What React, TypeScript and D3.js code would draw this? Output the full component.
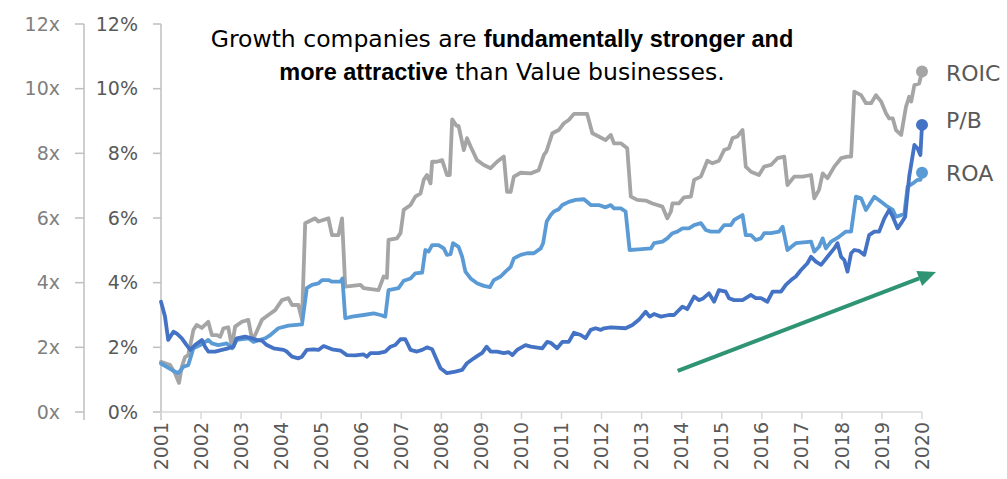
import React from "react";
import * as d3 from "d3";

// [decimal year, value] — ROIC and ROA in %, P/B in x (same 0–12 scale)
const roic: [number, number][] = [
  [2001.0, 1.55], [2001.23, 1.45], [2001.35, 1.2], [2001.45, 0.9], [2001.52, 1.4], [2001.6, 1.7],
  [2001.68, 1.76], [2001.81, 2.54], [2001.89, 2.69], [2002.02, 2.6], [2002.18, 2.79], [2002.27, 2.38],
  [2002.39, 2.38], [2002.48, 2.33], [2002.56, 2.59], [2002.68, 2.62], [2002.77, 2.02], [2002.85, 2.64],
  [2003.02, 2.79], [2003.18, 2.85], [2003.27, 2.28], [2003.35, 2.38], [2003.52, 2.85], [2003.68, 3.0],
  [2003.85, 3.15], [2004.02, 3.46], [2004.18, 3.52], [2004.27, 3.31], [2004.43, 3.31], [2004.52, 2.85],
  [2004.6, 5.84], [2004.85, 5.99], [2004.93, 5.89], [2005.18, 5.99], [2005.27, 5.47], [2005.43, 5.47],
  [2005.52, 5.99], [2005.6, 3.88], [2005.77, 3.9], [2005.98, 3.93], [2006.06, 3.83], [2006.43, 3.77],
  [2006.56, 4.19], [2006.64, 4.15], [2006.68, 5.32], [2006.89, 5.37], [2006.98, 5.53], [2007.06, 6.25],
  [2007.23, 6.4], [2007.35, 6.66], [2007.48, 6.76], [2007.56, 7.18], [2007.64, 7.33], [2007.73, 7.07],
  [2007.77, 7.74], [2007.89, 7.74], [2008.02, 7.79], [2008.14, 7.33], [2008.21, 7.33], [2008.27, 9.05],
  [2008.38, 8.85], [2008.43, 8.85], [2008.56, 8.1], [2008.64, 8.47], [2008.73, 8.21], [2008.89, 7.79],
  [2009.06, 7.64], [2009.23, 7.54], [2009.39, 7.74], [2009.56, 7.9], [2009.64, 6.81], [2009.73, 6.81],
  [2009.81, 7.28], [2009.98, 7.4], [2010.23, 7.38], [2010.43, 7.48], [2010.56, 7.95], [2010.62, 8.05],
  [2010.77, 8.62], [2010.93, 8.72], [2011.06, 8.93], [2011.18, 9.03], [2011.31, 9.22], [2011.64, 9.22],
  [2011.77, 8.62], [2011.93, 8.52], [2012.1, 8.41], [2012.23, 8.57], [2012.31, 8.31], [2012.48, 8.31],
  [2012.64, 8.16], [2012.73, 6.66], [2012.89, 6.56], [2013.1, 6.54], [2013.27, 6.45], [2013.52, 6.35],
  [2013.64, 5.99], [2013.73, 6.2], [2013.77, 6.45], [2013.93, 6.45], [2014.06, 6.64], [2014.23, 6.66],
  [2014.31, 7.18], [2014.48, 7.28], [2014.64, 7.77], [2014.77, 7.69], [2014.93, 7.77], [2015.06, 8.1],
  [2015.18, 8.16], [2015.27, 8.47], [2015.39, 8.52], [2015.52, 8.72], [2015.6, 7.59], [2015.73, 7.43],
  [2015.93, 7.33], [2016.06, 7.59], [2016.23, 7.64], [2016.39, 7.85], [2016.56, 7.9], [2016.64, 7.02],
  [2016.81, 7.28], [2017.02, 7.28], [2017.23, 7.33], [2017.31, 6.61], [2017.43, 6.87], [2017.52, 7.38],
  [2017.64, 7.23], [2017.81, 7.59], [2017.98, 7.85], [2018.14, 7.9], [2018.23, 7.9], [2018.31, 9.91],
  [2018.48, 9.8], [2018.6, 9.55], [2018.73, 9.55], [2018.85, 9.8], [2018.98, 9.6], [2019.1, 9.24],
  [2019.18, 9.08], [2019.27, 9.08], [2019.35, 8.72], [2019.48, 8.57], [2019.6, 9.44], [2019.68, 9.75],
  [2019.73, 9.6], [2019.81, 10.11], [2019.93, 10.16], [2020.0, 10.53],
];

const roa: [number, number][] = [
  [2001.0, 1.5], [2001.27, 1.3], [2001.43, 1.2], [2001.56, 1.4], [2001.68, 1.45], [2001.81, 1.97],
  [2001.98, 2.07], [2002.18, 2.23], [2002.27, 2.12], [2002.43, 2.07], [2002.64, 2.12], [2002.78, 1.97],
  [2002.89, 2.23], [2003.18, 2.28], [2003.31, 2.17], [2003.6, 2.28], [2003.73, 2.38], [2003.93, 2.59],
  [2004.18, 2.67], [2004.52, 2.71], [2004.64, 3.83], [2004.77, 3.93], [2004.93, 3.98], [2005.02, 4.08],
  [2005.18, 4.08], [2005.27, 4.03], [2005.48, 4.03], [2005.53, 4.13], [2005.6, 2.9], [2005.77, 2.95],
  [2006.06, 3.0], [2006.31, 3.05], [2006.48, 3.0], [2006.6, 2.95], [2006.68, 3.77], [2006.93, 3.83],
  [2007.06, 4.06], [2007.23, 4.13], [2007.35, 4.29], [2007.52, 4.31], [2007.6, 5.01], [2007.68, 4.96],
  [2007.77, 5.16], [2007.93, 5.16], [2008.06, 5.06], [2008.14, 4.86], [2008.23, 4.88], [2008.29, 5.22],
  [2008.43, 5.11], [2008.52, 4.8], [2008.6, 4.34], [2008.73, 4.13], [2008.89, 3.98], [2009.06, 3.9],
  [2009.21, 3.86], [2009.31, 4.08], [2009.48, 4.19], [2009.6, 4.34], [2009.73, 4.49], [2009.81, 4.75],
  [2009.98, 4.86], [2010.14, 4.91], [2010.31, 4.91], [2010.48, 5.06], [2010.54, 5.22], [2010.63, 5.89],
  [2010.73, 6.09], [2010.81, 6.2], [2010.93, 6.27], [2011.02, 6.4], [2011.18, 6.5], [2011.35, 6.56],
  [2011.56, 6.58], [2011.73, 6.4], [2011.93, 6.4], [2012.1, 6.33], [2012.23, 6.4], [2012.31, 6.3],
  [2012.48, 6.3], [2012.6, 6.2], [2012.7, 5.01], [2012.93, 5.03], [2013.23, 5.06], [2013.31, 5.22],
  [2013.52, 5.27], [2013.64, 5.37], [2013.77, 5.53], [2013.89, 5.58], [2014.02, 5.68], [2014.18, 5.68],
  [2014.31, 5.78], [2014.48, 5.84], [2014.6, 5.63], [2014.73, 5.58], [2014.93, 5.58], [2015.06, 5.78],
  [2015.23, 5.78], [2015.31, 5.94], [2015.52, 6.09], [2015.6, 5.47], [2015.73, 5.47], [2015.85, 5.32],
  [2015.98, 5.37], [2016.06, 5.53], [2016.23, 5.53], [2016.43, 5.58], [2016.52, 5.73], [2016.64, 5.01],
  [2016.85, 5.22], [2017.23, 5.27], [2017.31, 4.96], [2017.43, 5.11], [2017.52, 5.37], [2017.6, 5.06],
  [2017.73, 5.27], [2017.93, 5.42], [2018.1, 5.58], [2018.23, 5.58], [2018.35, 6.66], [2018.48, 6.61],
  [2018.6, 6.25], [2018.68, 6.4], [2018.81, 6.66], [2018.98, 6.5], [2019.14, 6.35], [2019.27, 6.25],
  [2019.35, 6.04], [2019.48, 6.09], [2019.56, 6.14], [2019.64, 6.97], [2019.77, 7.07], [2019.89, 7.18],
  [2019.96, 7.18], [2020.0, 7.4],
];

const pb: [number, number][] = [
  [2001.0, 3.41], [2001.1, 2.95], [2001.18, 2.23], [2001.31, 2.48], [2001.39, 2.43], [2001.52, 2.28],
  [2001.64, 2.07], [2001.73, 1.92], [2001.85, 2.07], [2002.02, 2.23], [2002.1, 2.02], [2002.18, 1.87],
  [2002.35, 1.87], [2002.52, 1.92], [2002.68, 1.97], [2002.81, 2.02], [2002.89, 2.28], [2003.1, 2.33],
  [2003.27, 2.28], [2003.39, 2.23], [2003.52, 2.21], [2003.64, 2.07], [2003.81, 1.97], [2004.06, 1.92],
  [2004.14, 1.87], [2004.27, 1.71], [2004.43, 1.66], [2004.52, 1.71], [2004.64, 1.92], [2004.81, 1.94],
  [2004.93, 1.92], [2005.06, 2.04], [2005.27, 1.94], [2005.48, 1.9], [2005.64, 1.76], [2005.85, 1.75],
  [2006.06, 1.78], [2006.14, 1.71], [2006.23, 1.82], [2006.43, 1.82], [2006.6, 1.87], [2006.73, 2.02],
  [2006.85, 2.07], [2006.98, 2.25], [2007.1, 2.25], [2007.23, 1.92], [2007.39, 1.87], [2007.52, 1.92],
  [2007.64, 2.0], [2007.77, 1.94], [2007.85, 1.71], [2007.98, 1.35], [2008.14, 1.2], [2008.35, 1.25],
  [2008.52, 1.3], [2008.64, 1.51], [2008.81, 1.66], [2008.93, 1.76], [2009.02, 1.83], [2009.13, 2.02],
  [2009.23, 1.87], [2009.39, 1.87], [2009.56, 1.82], [2009.68, 1.85], [2009.77, 1.76], [2009.89, 1.92],
  [2010.1, 2.07], [2010.23, 2.02], [2010.52, 1.97], [2010.64, 2.17], [2010.73, 2.14], [2010.89, 1.97],
  [2011.02, 2.17], [2011.18, 2.17], [2011.31, 2.45], [2011.48, 2.38], [2011.6, 2.28], [2011.73, 2.54],
  [2011.85, 2.59], [2011.98, 2.54], [2012.06, 2.59], [2012.23, 2.62], [2012.6, 2.59], [2012.77, 2.69],
  [2012.93, 2.85], [2013.1, 3.1], [2013.2, 2.95], [2013.31, 3.03], [2013.48, 2.95], [2013.68, 3.0],
  [2013.81, 3.0], [2013.89, 3.1], [2014.02, 3.26], [2014.14, 3.18], [2014.31, 3.57], [2014.43, 3.46],
  [2014.52, 3.5], [2014.68, 3.67], [2014.81, 3.41], [2014.93, 3.77], [2015.1, 3.72], [2015.18, 3.52],
  [2015.31, 3.46], [2015.52, 3.46], [2015.6, 3.52], [2015.73, 3.62], [2015.85, 3.52], [2015.98, 3.52],
  [2016.14, 3.41], [2016.27, 3.72], [2016.48, 3.72], [2016.6, 3.93], [2016.73, 4.08], [2016.85, 4.19],
  [2016.98, 4.39], [2017.14, 4.6], [2017.23, 4.8], [2017.35, 4.65], [2017.48, 4.55], [2017.64, 4.8],
  [2017.81, 5.06], [2017.89, 5.22], [2017.98, 4.8], [2018.06, 4.7], [2018.14, 4.34], [2018.23, 4.91],
  [2018.31, 5.01], [2018.43, 4.98], [2018.56, 4.86], [2018.68, 5.47], [2018.81, 5.58], [2018.93, 5.58],
  [2019.06, 5.99], [2019.18, 6.25], [2019.27, 6.04], [2019.39, 5.68], [2019.48, 5.84], [2019.58, 6.04],
  [2019.68, 7.28], [2019.81, 8.26], [2019.89, 8.15], [2019.96, 7.95], [2020.0, 8.88],
];

const years = d3.range(2001, 2021);
const leftTicks = [0, 2, 4, 6, 8, 10, 12];
const leftTickLabels = ["0x", "2x", "4x", "6x", "8x", "10x", "12x"];
const pctTickLabels = ["0%", "2%", "4%", "6%", "8%", "10%", "12%"];
const seriesNames = ["ROIC", "P/B", "ROA"];
const seriesColors = ["#A5A5A5", "#4472C4", "#5B9BD5"];
const trendArrow: [number, number][] = [[2013.9, 1.27], [2020.35, 4.33]];

const FONT = "'DejaVu Sans', sans-serif";
const BOLD_FONT = "'Liberation Sans', Arial, sans-serif";

export default function App() {
  const W = 1007, H = 479;
  const x = d3.scaleLinear().domain([2001, 2020]).range([161, 922]);
  const y = d3.scaleLinear().domain([0, 12]).range([412, 24]);
  const line = d3.line<[number, number]>().x(d => x(d[0])).y(d => y(d[1]));
  const series = [roic, pb, roa];
  const drawOrder = [0, 2, 1];
  const axisColor = "#BFBFBF";
  const labelColor = "#595959";

  const a0 = [x(trendArrow[0][0]), y(trendArrow[0][1])];
  const a1 = [x(trendArrow[1][0]), y(trendArrow[1][1])];
  const ang = Math.atan2(a1[1] - a0[1], a1[0] - a0[0]);
  const headLen = 18, headW = 8;
  const baseX = a1[0] - headLen * Math.cos(ang), baseY = a1[1] - headLen * Math.sin(ang);
  const head = [
    [a1[0], a1[1]],
    [baseX + headW * Math.sin(ang), baseY - headW * Math.cos(ang)],
    [baseX - headW * Math.sin(ang), baseY + headW * Math.cos(ang)],
  ];

  return (
    <svg width={W} height={H} style={{ position: "absolute", left: 0, top: 0, background: "#fff" }}>
      {/* left axis (multiples) */}
      <line x1={84} x2={84} y1={y(12)} y2={420} stroke={axisColor} strokeWidth={1.5} />
      {leftTicks.map((t, i) => (
        <g key={"l" + t}>
          <line x1={75} x2={84} y1={y(t)} y2={y(t)} stroke={axisColor} strokeWidth={1.5} />
          <text x={60} y={y(t)} dy="0.35em" textAnchor="end" fontFamily={FONT} fontSize={19} fill="#7F7F7F">
            {leftTickLabels[i]}
          </text>
        </g>
      ))}
      {/* percent axis */}
      <line x1={161} x2={161} y1={y(12)} y2={420} stroke={axisColor} strokeWidth={1.5} />
      {leftTicks.map((t, i) => (
        <g key={"p" + t}>
          <line x1={153} x2={161} y1={y(t)} y2={y(t)} stroke={axisColor} strokeWidth={1.5} />
          <text x={138} y={y(t)} dy="0.35em" textAnchor="end" fontFamily={FONT} fontSize={19} fill={labelColor}>
            {pctTickLabels[i]}
          </text>
        </g>
      ))}
      {/* x axis */}
      <line x1={161} x2={x(2020)} y1={y(0)} y2={y(0)} stroke="#D9D9D9" strokeWidth={1.5} />
      {years.map(yr => (
        <g key={yr}>
          <line x1={x(yr)} x2={x(yr)} y1={y(0)} y2={419} stroke="#D9D9D9" strokeWidth={1.5} />
          <text
            transform={`translate(${x(yr)},${422}) rotate(-90)`}
            textAnchor="end"
            dy="0.35em"
            fontFamily={FONT}
            fontSize={19}
            fill={labelColor}
          >
            {yr}
          </text>
        </g>
      ))}
      {/* series */}
      {drawOrder.map(i => (
        <path key={seriesNames[i]} d={line(series[i]) || ""} fill="none" stroke={seriesColors[i]}
          strokeWidth={3.8} strokeLinejoin="round" strokeLinecap="round" />
      ))}
      {drawOrder.map(i => {
        const last = series[i][series[i].length - 1];
        return <circle key={"c" + i} cx={x(last[0])} cy={y(last[1])} r={6} fill={seriesColors[i]} />;
      })}
      {/* end labels */}
      {[0, 1, 2].map(i => {
        const ly = [81, 128, 181][i];
        return (
          <text key={"lab" + i} x={946} y={ly} fontFamily={FONT} fontSize={22} fill={labelColor}>
            {seriesNames[i]}
          </text>
        );
      })}
      {/* trend arrow */}
      <line x1={a0[0]} y1={a0[1]} x2={baseX} y2={baseY} stroke="#2E9474" strokeWidth={4} />
      <polygon points={head.map(p => p.join(",")).join(" ")} fill="#2E9474" />
      {/* title */}
      <text x={502} y={47} textAnchor="middle" fontFamily={FONT} fontSize={23.5} fill="#000">
        <tspan>Growth companies are </tspan>
        <tspan fontWeight="bold" fontFamily={BOLD_FONT}>fundamentally stronger and</tspan>
      </text>
      <text x={502} y={80} textAnchor="middle" fontFamily={FONT} fontSize={23.5} fill="#000">
        <tspan fontWeight="bold" fontFamily={BOLD_FONT}>more attractive</tspan>
        <tspan> than Value businesses.</tspan>
      </text>
    </svg>
  );
}
